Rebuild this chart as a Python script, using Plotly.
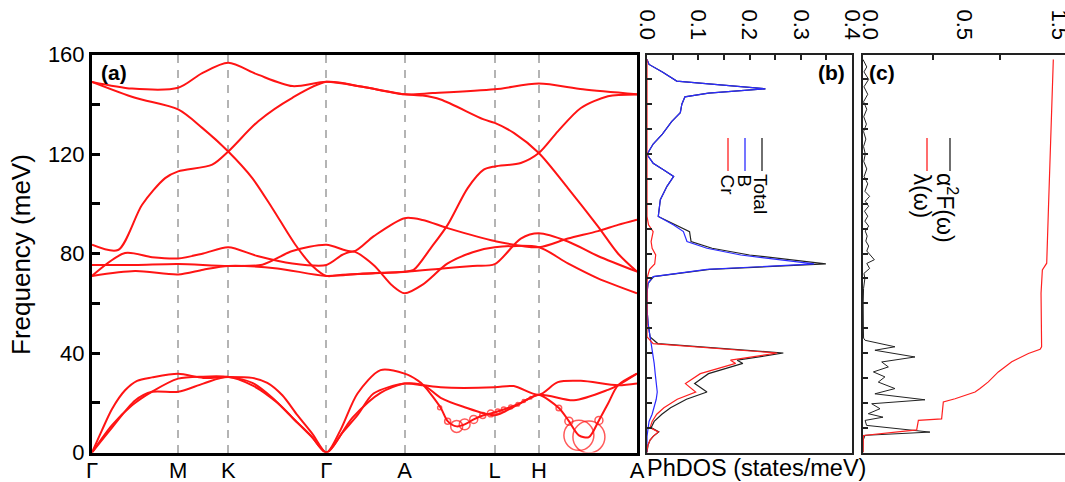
import plotly.graph_objects as go

W, H = 1065, 482
FONT = "Arial, 'Liberation Sans', sans-serif"
RED = "#ff1414"

# ---------------- panel (a): phonon dispersion ----------------
kpath_pos = [0, 86, 136, 234, 312, 402, 446, 544]
kpath_labels = ["Γ", "M", "K", "Γ", "A", "L", "H", "A"]
freq_ticks = [0, 40, 80, 120, 160]

band_t1_k = [0, 40, 86, 110, 136, 165, 200, 234, 270, 312, 340, 402, 446, 490, 544]
band_t1_f = [149, 146.3, 146.6, 152.5, 156.7, 152, 147.3, 149, 147, 144, 144.5, 146, 148.3, 146, 144]

band_t2_k = [0, 43, 86, 110, 136, 160, 180, 203, 220, 234, 250, 280, 312, 321, 338, 355, 375, 391,
             402, 428, 446, 465, 488, 515, 544]
band_t2_f = [149, 142.6, 137.9, 130.5, 121, 110.3, 98.2, 83.5, 75, 71, 71.5, 72, 72.7, 73.4, 82.1, 91.5,
             106.3, 113.7, 115, 116.4, 120.4, 129.1, 138.5, 143.2, 143.9]

band_t3_k = [0, 26, 50, 73, 86, 120, 136, 166, 200, 234, 270, 312, 330, 348, 391, 402, 421, 446, 475,
             505, 525, 544]
band_t3_f = [83.5, 81.4, 99.6, 110.3, 113, 115.7, 121, 133.2, 142.6, 149, 147, 144, 143.5, 141.9, 133.9,
             132.5, 128.5, 120.4, 106.3, 90.9, 80, 72.7]

band_o1_k = [0, 33, 60, 86, 111, 136, 165, 200, 234, 250, 261, 281, 300, 312, 330, 355, 380, 402, 446,
             475, 505, 544]
band_o1_f = [71, 80.2, 78.5, 78, 80, 82.5, 79, 76, 75.4, 79.5, 80.8, 75.4, 67, 64, 67.5, 76, 80.5, 82.5,
             82.5, 76, 70, 64]

band_o2_k = [0, 43, 86, 136, 170, 200, 234, 261, 281, 312, 330, 355, 402, 446, 475, 505, 525, 544]
band_o2_f = [75.4, 75.4, 75.8, 75, 75.5, 81, 83.5, 80.8, 86.9, 94.2, 93.5, 90.2, 85, 82.5, 86, 89, 91.5,
             93.6]

band_o3_k = [0, 43, 86, 111, 136, 185, 234, 270, 312, 350, 380, 402, 428, 446, 475, 505, 544]
band_o3_f = [71, 73, 71.6, 73.5, 75, 74, 71, 72, 72.7, 74, 75, 75.7, 86, 88.1, 84.8, 79, 72.7]

band_a1_k = [0, 10, 20, 33, 45, 60, 86, 111, 136, 160, 175, 190, 205, 220, 234, 248, 265, 288, 312,
             325, 331, 348, 355, 364, 372, 381, 390, 398, 411, 425, 438, 446, 466, 476, 486, 496, 506,
             515, 525, 544]
band_a1_f = [0, 9, 17.5, 25, 28.8, 30.2, 31.7, 30, 30.4, 30, 28, 23, 15, 7.5, 0, 9, 23.7, 33.1, 31.7,
             29, 27, 18, 12.6, 10.5, 11.3, 13.3, 14.9, 15.7, 17.3, 19.4, 22, 23.2, 17.9, 12.6, 6.9, 6.2,
             12.9, 19.6, 27, 31.7]

band_a2_k = [0, 20, 40, 60, 86, 111, 136, 160, 180, 200, 218, 234, 250, 265, 281, 312, 331, 348, 402,
             421, 446, 465, 488, 525, 544]
band_a2_f = [0, 11, 19, 24.5, 29.7, 30.5, 30.4, 28, 22, 14, 7, 0, 8, 15, 23.7, 27.7, 27, 26.2, 26.2,
             26.7, 23.2, 28.3, 28.8, 27, 27.7]

band_a3_k = [0, 20, 43, 60, 86, 111, 136, 160, 185, 205, 220, 234, 260, 288, 312, 331, 348, 370, 402,
             421, 446, 481, 515, 525, 544]
band_a3_f = [0, 10, 20.9, 24.4, 24.4, 27.7, 30.4, 27, 20, 12, 6, 0, 14, 24, 27.7, 27, 22, 18.5, 15,
             18.4, 23.2, 21, 25.2, 27, 31.7]

# electron-phonon coupling strength (circle sizes)
circle_k = [347, 355, 364, 372, 381, 390, 398, 405, 411, 418, 425, 431, 438, 466, 476, 486, 496, 506]
circle_f = [18, 12.6, 10.5, 11.3, 13.3, 14.9, 15.7, 16.5, 17.3, 18.3, 19.4, 20.7, 22, 17.9, 12.6, 6.9,
            6.2, 12.9]
circle_lambda = [0.1, 0.15, 0.3, 0.27, 0.2, 0.15, 0.17, 0.12, 0.12, 0.1, 0.09, 0.08, 0.06, 0.14, 0.2,
                 0.75, 0.8, 0.2]

# ---------------- panel (b): phonon DOS ----------------
dos_freq = [158, 156, 153, 149.3, 146.2, 144.5, 143, 140, 136.6, 133,
            128, 124, 119.8, 116.3, 113.7, 111, 107, 101.6, 94.9, 91.5,
            88.8, 84.8, 82.1, 79.4, 75.8, 73.6, 70.7, 68, 64, 58,
            52, 46.5, 43.8, 40, 37.1, 35.8, 31.7, 27.7, 24.3, 21.4,
            18, 15.4, 12.5, 10, 8.3, 6.5, 5, 3, 1, 0]
dos_B = [0, 0.004, 0.03, 0.058, 0.231, 0.12, 0.074, 0.068, 0.065, 0.048,
         0.03, 0.012, 0, 0.012, 0.032, 0.052, 0.039, 0.026, 0.022, 0.052,
         0.071, 0.078, 0.117, 0.183, 0.326, 0.117, 0.012, 0.002, 0, 0,
         0.002, 0.006, 0.009, 0.012, 0.013, 0.014, 0.016, 0.018, 0.02, 0.018,
         0.013, 0.01, 0.004, 0.002, 0.001, 0, 0, 0, 0, 0]
dos_Cr = [0, 0, 0, 0, 0, 0, 0, 0, 0, 0,
          0, 0, 0, 0, 0, 0, 0, 0, 0, 0.003,
          0.012, 0.008, 0.01, 0.017, 0.015, 0.005, 0.001, 0, 0, 0,
          0, 0, 0.012, 0.254, 0.163, 0.173, 0.104, 0.075, 0.095, 0.059,
          0.033, 0.019, 0.01, 0.006, 0.022, 0.012, 0.006, 0.002, 0, 0]
dos_total = [0, 0.004, 0.03, 0.058, 0.231, 0.12, 0.074, 0.068, 0.065, 0.048,
             0.03, 0.012, 0, 0.012, 0.032, 0.052, 0.039, 0.026, 0.022, 0.055,
             0.083, 0.086, 0.127, 0.2, 0.349, 0.122, 0.013, 0.002, 0, 0,
             0.002, 0.006, 0.021, 0.266, 0.176, 0.187, 0.12, 0.093, 0.117, 0.077,
             0.046, 0.029, 0.014, 0.008, 0.023, 0.012, 0.006, 0.002, 0, 0]
dos_ticks = [0.0, 0.1, 0.2, 0.3, 0.4]

# ---------------- panel (c): Eliashberg function ----------------
a2f_freq = [158, 155, 153, 150, 147, 144, 141, 138, 135, 132, 129, 126, 123, 120, 117, 114, 111, 108,
            105, 103, 101, 99, 97, 95, 93, 91, 89, 87, 85, 83, 81, 79, 77.5, 76, 74, 72, 70, 66, 60,
            50, 46, 45.1, 42.5, 41.1, 38.4, 36.4, 34.4, 32.4, 30.4, 28.3, 25.7, 23.6, 21.2, 19.6,
            17.6, 15.6, 14.2, 12.9, 10.9, 8.2, 6.9, 4.8, 0]
a2f_val = [0, 0.02, 0.005, 0.03, 0.005, 0.025, 0.003, 0.02, 0.004, 0.018, 0.003, 0.015, 0.003, 0.012,
           0.004, 0.02, 0.006, 0.025, 0.01, 0.035, 0.012, 0.03, 0.008, 0.025, 0.01, 0.03, 0.012,
           0.022, 0.015, 0.03, 0.02, 0.045, 0.06, 0.02, 0.035, 0.005, 0.01, 0.003, 0.001, 0.002,
           0.003, 0.011, 0.169, 0.063, 0.275, 0.099, 0.134, 0.055, 0.116, 0.081, 0.169, 0.063, 0.328,
           0.046, 0.09, 0.028, 0.106, 0.011, 0.019, 0.354, 0.011, 0, 0]
lam_freq = [0, 2.1, 6.85, 9.1, 12.9, 13.5, 20.3, 21.6, 22.9, 24.3, 25.7, 28.4, 32.4, 36.5, 39.8, 41.5,
            42.5, 64, 73.4, 76.1, 97.6, 117.7, 137.9, 158]
lam_val = [0, 0, 0.002, 0.284, 0.293, 0.416, 0.425, 0.487, 0.54, 0.593, 0.619, 0.663, 0.716, 0.787,
           0.875, 0.937, 0.945, 0.942, 0.949, 0.972, 0.981, 0.99, 0.998, 1.007]
lam_tickvals = [0.0, 0.5, 1.0]
lam_ticktext = ["0.0", "0.5", "1.5"]


def px(x):
    return x / W


def py(y):
    return 1 - y / H


fig = go.Figure()

bands = [(band_t1_k, band_t1_f), (band_t2_k, band_t2_f), (band_t3_k, band_t3_f),
         (band_o1_k, band_o1_f), (band_o2_k, band_o2_f), (band_o3_k, band_o3_f),
         (band_a1_k, band_a1_f), (band_a2_k, band_a2_f), (band_a3_k, band_a3_f)]
for k, f in bands:
    fig.add_trace(go.Scatter(x=k, y=f, mode="lines", xaxis="x", yaxis="y",
                             line=dict(color=RED, width=2, shape="spline", smoothing=0.8),
                             hoverinfo="skip", showlegend=False))

fig.add_trace(go.Scatter(x=circle_k, y=circle_f, mode="markers", xaxis="x", yaxis="y",
                         marker=dict(symbol="circle-open", size=[v * 40 for v in circle_lambda],
                                     color=RED, line=dict(color=RED, width=1.5)),
                         hoverinfo="skip", showlegend=False))

for vals, col in [(dos_total, "#222222"), (dos_B, "#2b2bff"), (dos_Cr, "#ff2020")]:
    fig.add_trace(go.Scatter(x=vals, y=dos_freq, mode="lines", xaxis="x2", yaxis="y2",
                             line=dict(color=col, width=1.2), hoverinfo="skip", showlegend=False))

fig.add_trace(go.Scatter(x=a2f_val, y=a2f_freq, mode="lines", xaxis="x3", yaxis="y3",
                         line=dict(color="#222222", width=1), hoverinfo="skip", showlegend=False))
fig.add_trace(go.Scatter(x=lam_val, y=lam_freq, mode="lines", xaxis="x3", yaxis="y3",
                         line=dict(color="#ff2020", width=1.2), hoverinfo="skip", showlegend=False))

ydom = [py(452.5), py(54.5)]

fig.update_layout(
    width=W, height=H, margin=dict(l=0, r=0, t=0, b=0, autoexpand=False),
    paper_bgcolor="white", plot_bgcolor="white", showlegend=False,
    font=dict(family=FONT, color="black", size=21),
    xaxis=dict(domain=[px(92), px(637)], range=[0, 544], tickmode="array", tickvals=kpath_pos,
               ticktext=kpath_labels, ticks="", showgrid=True, gridcolor="#b4b4b4", gridwidth=2,
               griddash="8px,7px", showline=True, linecolor="black", linewidth=3, mirror=True,
               zeroline=False, anchor="y", automargin=False, ticklabelstandoff=-4,
               tickfont=dict(size=22)),
    yaxis=dict(domain=ydom, range=[0, 160], tickmode="array", tickvals=freq_ticks,
               ticks="inside", ticklen=8, tickwidth=2.5, tickcolor="black",
               minor=dict(tickmode="array", tickvals=[20, 60, 100, 140], ticks="inside",
                          ticklen=8, tickwidth=2.5, tickcolor="black"),
               showline=True, linecolor="black", linewidth=3, mirror=True, showgrid=False,
               zeroline=False, anchor="x", automargin=False, tickfont=dict(size=22)),
    xaxis2=dict(domain=[px(647), px(852)], range=[0, 0.4], side="top", anchor="y2",
                tickmode="array", tickvals=dos_ticks, tickformat=".1f", tickangle=90,
                ticks="inside", ticklen=6, tickwidth=1.5, tickcolor="#222",
                ticklabelstandoff=5, ticklabeloverflow="allow",
                minor=dict(tickmode="array", tickvals=[0.05, 0.15, 0.25, 0.35], ticks="inside",
                           ticklen=6, tickwidth=1.5, tickcolor="#222"),
                showline=True, linecolor="#222", linewidth=1.5, mirror=True, showgrid=False,
                zeroline=False, automargin=False, tickfont=dict(size=22)),
    yaxis2=dict(domain=ydom, range=[0, 160], anchor="x2", showticklabels=False, dtick=10,
                ticks="inside", ticklen=5, tickwidth=1.5, tickcolor="#222",
                showline=True, linecolor="#222", linewidth=1.5, mirror=True, showgrid=False,
                zeroline=False, automargin=False),
    xaxis3=dict(domain=[px(863), 1.0], range=[0, (1065 - 863) / 189], side="top", anchor="y3",
                tickmode="array", tickvals=lam_tickvals, ticktext=lam_ticktext, tickangle=90,
                ticks="inside", ticklen=0, ticklabelshift=7, ticklabelstandoff=5,
                ticklabeloverflow="allow",
                minor=dict(tickmode="array", tickvals=[0.37, 0.725], ticks="inside",
                           ticklen=6, tickwidth=1.5, tickcolor="#222"),
                showline=True, linecolor="#222", linewidth=1.5, mirror=True, showgrid=False,
                zeroline=False, automargin=False, tickfont=dict(size=22)),
    yaxis3=dict(domain=ydom, range=[0, 160], anchor="x3", showticklabels=False, dtick=10,
                ticks="inside", ticklen=5, tickwidth=1.5, tickcolor="#222",
                showline=True, linecolor="#222", linewidth=1.5, mirror=False, showgrid=False,
                zeroline=False, automargin=False),
)

ann = [
    dict(x=px(21), y=py(255), text="Frequency (meV)", textangle=-90, font=dict(size=26)),
    dict(x=px(645), y=py(468), text="PhDOS (states/meV)", xanchor="left", font=dict(size=23.5)),
    dict(x=px(99), y=py(72), text="<b>(a)</b>", xanchor="left", font=dict(size=21)),
    dict(x=px(847), y=py(72), text="<b>(b)</b>", xanchor="right", font=dict(size=21)),
    dict(x=px(867), y=py(72), text="<b>(c)</b>", xanchor="left", font=dict(size=21)),
    dict(x=px(761), y=py(172), text="Total", textangle=90, yanchor="top", font=dict(size=19)),
    dict(x=px(744), y=py(172), text="B", textangle=90, yanchor="top", font=dict(size=19)),
    dict(x=px(727), y=py(172), text="Cr", textangle=90, yanchor="top", font=dict(size=19)),
    dict(x=px(947), y=py(171), text="α<sup>2</sup>F(ω)", textangle=90, yanchor="top",
         font=dict(size=23)),
    dict(x=px(922), y=py(171), text="λ(ω)", textangle=90, yanchor="top", font=dict(size=23)),
]
for a in ann:
    a.update(xref="paper", yref="paper", showarrow=False)
    a.setdefault("xanchor", "center")
    a.setdefault("yanchor", "middle")
fig.update_layout(annotations=ann)

legend_lines = [(762, "#222222"), (745, "#2b2bff"), (728, "#ff2020"), (950, "#222222"),
                (927, "#ff2020")]
for xl, col in legend_lines:
    fig.add_shape(type="line", xref="paper", yref="paper", x0=px(xl), x1=px(xl),
                  y0=py(138), y1=py(171), line=dict(color=col, width=1.3))

fig.write_html("out.html", config={"displayModeBar": False},
               post_script="document.body.style.margin='0px';document.body.style.padding='0px';")
